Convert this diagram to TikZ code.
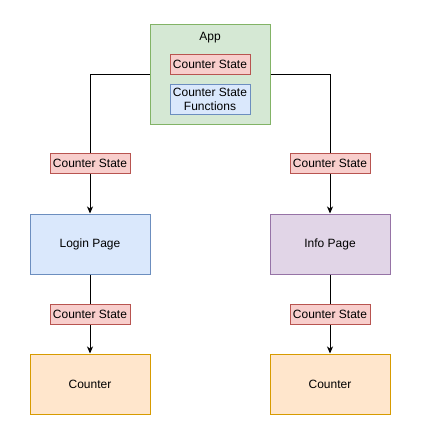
\documentclass[tikz,border=0pt]{standalone}
\usepackage{fontspec}
\setmainfont{Liberation Sans}
\usetikzlibrary{positioning}
\usetikzlibrary{arrows.meta}

\definecolor{appfill}{HTML}{D5E8D4}
\definecolor{appline}{HTML}{82B366}
\definecolor{statefill}{HTML}{F8CECC}
\definecolor{stateline}{HTML}{B85450}
\definecolor{funcfill}{HTML}{DAE8FC}
\definecolor{funcline}{HTML}{6C8EBF}
\definecolor{infofill}{HTML}{E1D5E7}
\definecolor{infoline}{HTML}{9673A6}
\definecolor{countfill}{HTML}{FFE6CC}
\definecolor{countline}{HTML}{D79B00}

\begin{document}
\begin{tikzpicture}[
    x=1pt, y=-1pt,
    font=\fontsize{12}{14}\selectfont,
    line width=1pt,
    pagebox/.style={rectangle, draw=#1line, fill=#1fill, minimum width=120pt, minimum height=60pt, inner sep=0pt},
    statebox/.style={rectangle, draw=stateline, fill=statefill, minimum width=80pt, minimum height=20pt, inner sep=0pt},
    flow/.style={-{Stealth[length=7pt, width=6pt, inset=2pt]}, black},
  ]
  \useasboundingbox (0,0) rectangle (422,448);

  \node[pagebox=app, minimum height=100pt]  (app)    at (210,74)   {};
  \node                                     (apptitle) at (210,38) {App};
  \node[statebox]                           (appstate) at (210,64) {Counter State};
  \node[statebox, draw=funcline, fill=funcfill, minimum height=30pt, align=center]
                                            (appfunc)  at (210,99) {Counter State\\Functions};

  \node[pagebox=func]   (login)     at (90,244)   {Login Page};
  \node[pagebox=info]   (info)      at (330,244)  {Info Page};
  \node[pagebox=count]  (counterL)  at (90,384)   {Counter};
  \node[pagebox=count]  (counterR)  at (330,384)  {Counter};

  \draw[flow] (app.west) -| node[statebox, pos=0.82] {Counter State} (login.north);
  \draw[flow] (app.east) -| node[statebox, pos=0.82] {Counter State} (info.north);
  \draw[flow] (login.south) -- node[statebox] {Counter State} (counterL.north);
  \draw[flow] (info.south) -- node[statebox] {Counter State} (counterR.north);
\end{tikzpicture}
\end{document}
